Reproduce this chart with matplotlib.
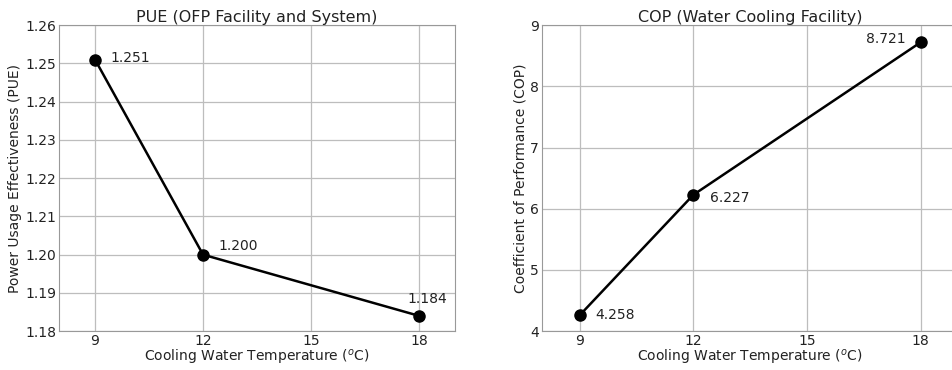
import matplotlib
matplotlib.use("Agg")
import matplotlib.pyplot as plt

temps = [9, 12, 18]
pue = [1.251, 1.200, 1.184]
cop = [4.258, 6.227, 8.721]
pue_labels = ["1.251", "1.200", "1.184"]
cop_labels = ["4.258", "6.227", "8.721"]
xticks = [9, 12, 15, 18]

plt.rcParams['font.family'] = ['DejaVu Sans']
fig = plt.figure(figsize=(9.52, 3.70), dpi=100)
ax1 = fig.add_axes([0.062, 0.105, 0.416, 0.827])
ax2 = fig.add_axes([0.569, 0.105, 0.438, 0.827])

fs = 10
tc = '#222222'
for ax in (ax1, ax2):
    ax.set_xlim(8, 19)
    ax.set_xticks(xticks)
    ax.grid(True, color='#bdbdbd', linewidth=0.9)
    ax.set_axisbelow(True)
    ax.tick_params(labelsize=fs, length=0, pad=2, labelcolor=tc)
    ax.set_xlabel('Cooling Water Temperature ($^o$C)', fontsize=fs, labelpad=0, color=tc)
    for s in ax.spines.values():
        s.set_color('#999999')

ax1.plot(temps, pue, color='black', marker='o', markersize=8, linewidth=1.8)
ax1.set_ylim(1.18, 1.26)
ax1.set_yticks([1.18, 1.19, 1.20, 1.21, 1.22, 1.23, 1.24, 1.25, 1.26])
ax1.set_yticklabels(['1.18', '1.19', '1.20', '1.21', '1.22', '1.23', '1.24', '1.25', '1.26'])
ax1.set_ylabel('Power Usage Effectiveness (PUE)', fontsize=fs, labelpad=2, color=tc)
ax1.set_title('PUE (OFP Facility and System)', fontsize=11.5, pad=2, color=tc)
offs1 = [(11, 1.5), (11, 6), (6, 12)]
has1 = ['left', 'left', 'center']
for x, y, t, o, h in zip(temps, pue, pue_labels, offs1, has1):
    ax1.annotate(t, (x, y), xytext=o, textcoords='offset points', fontsize=fs, ha=h, va='center', color=tc)

ax2.plot(temps, cop, color='black', marker='o', markersize=8, linewidth=1.8)
ax2.set_ylim(4, 9)
ax2.set_yticks([4, 5, 6, 7, 8, 9])
ax2.set_ylabel('Coefficient of Performance (COP)', fontsize=fs, labelpad=2, color=tc)
ax2.set_title('COP (Water Cooling Facility)', fontsize=11.5, pad=2, color=tc)
offs2 = [(11, 0.5), (12, -2), (-11, 2.5)]
has2 = ['left', 'left', 'right']
for x, y, t, o, h in zip(temps, cop, cop_labels, offs2, has2):
    ax2.annotate(t, (x, y), xytext=o, textcoords='offset points', fontsize=fs, ha=h, va='center', color=tc)

fig.savefig('out.png', dpi=100)
